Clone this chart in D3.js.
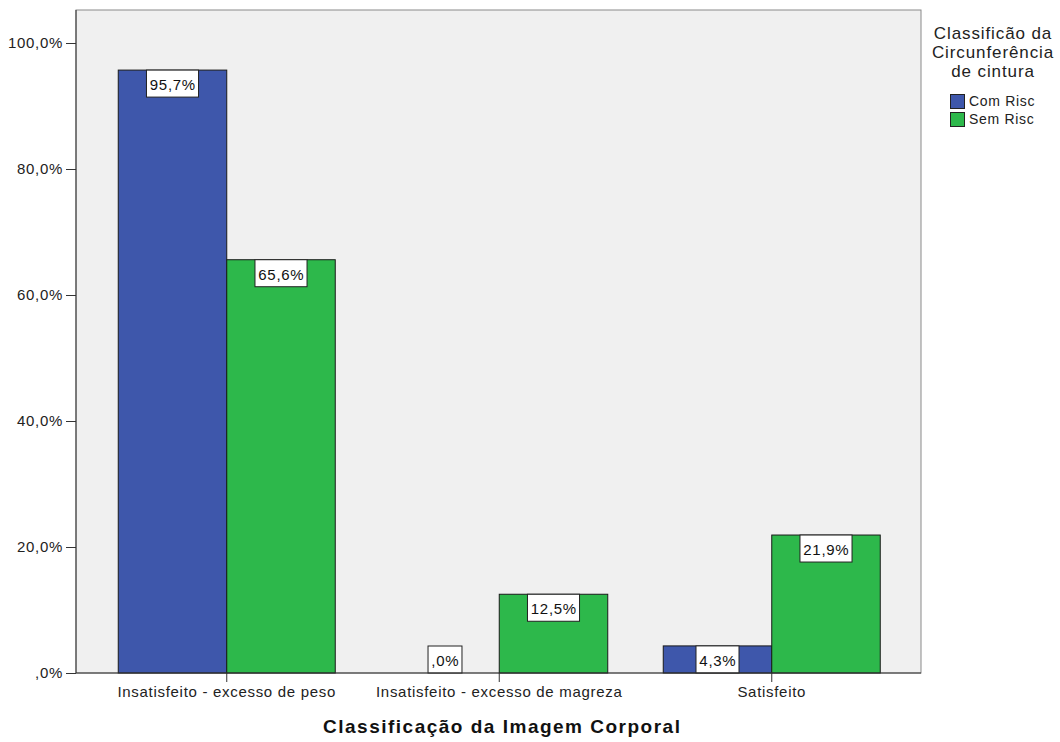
<!DOCTYPE html>
<html lang="pt">
<head>
    <meta charset="UTF-8">
    <title>Classificação da Imagem Corporal</title>
    <script src="https://cdn.jsdelivr.net/npm/d3@7"></script>
    <style>
        body {
            margin: 0;
            padding: 0;
            background: #fff;
            font-family: "Liberation Sans", Arial, sans-serif;
        }
        svg text {
            font-family: "Liberation Sans", Arial, sans-serif;
        }
    </style>
</head>
<body>
    <svg id="chart" width="1060" height="742"></svg>
    <script>
        // Data
        const categories = ['Insatisfeito - excesso de peso', 'Insatisfeito - excesso de magreza', 'Satisfeito'];
        const series = ['Com Risc', 'Sem Risc'];
        const comRisc = [95.7, 0.0, 4.3];
        const semRisc = [65.6, 12.5, 21.9];
        const yTicks = [0, 20, 40, 60, 80, 100];
        const colors = ['#3e57ab', '#2db84b'];

        const svg = d3.select('#chart');
        const plot = { left: 76, top: 10, right: 921, bottom: 673 };

        // percent formatting like SPSS: ",0%" / "95,7%"
        const fmt = v => {
            const s = v.toFixed(1).replace('.', ',');
            return (s.startsWith('0,') ? s.slice(1) : s) + '%';
        };

        const x = d3.scaleBand().domain(categories).range([90.5, 908]).padding(0);
        const groupW = 217;
        const xSub = d3.scaleBand().domain(series).range([0, groupW]);
        const y = d3.scaleLinear().domain([0, 100]).range([plot.bottom, 43]);

        // plot background
        svg.append('rect')
            .attr('x', plot.left).attr('y', plot.top)
            .attr('width', plot.right - plot.left)
            .attr('height', plot.bottom - plot.top)
            .attr('fill', '#f0f0f0')
            .attr('stroke', '#8a8a8a');

        const rows = categories.map((c, i) => ({ cat: c, values: [comRisc[i], semRisc[i]] }));

        const groups = svg.selectAll('g.grp')
            .data(rows)
            .enter()
            .append('g')
            .attr('class', 'grp')
            .attr('transform', d => `translate(${x(d.cat) + x.bandwidth() / 2 - groupW / 2},0)`);

        groups.selectAll('rect')
            .data(d => d.values.map((v, j) => ({ s: series[j], v, j })))
            .enter()
            .append('rect')
            .attr('x', d => xSub(d.s))
            .attr('width', xSub.bandwidth())
            .attr('y', d => y(d.v))
            .attr('height', d => y(0) - y(d.v))
            .attr('fill', d => colors[d.j])
            .attr('stroke', d => d.v > 0 ? '#1a1a1a' : 'none')
            .attr('stroke-width', 1);

        // value labels in white boxes
        const boxH = 27;
        groups.each(function (d) {
            const g = d3.select(this);
            d.values.forEach((v, j) => {
                const cx = xSub(series[j]) + xSub.bandwidth() / 2;
                const top = Math.min(y(v), y(0) - boxH);
                const t = g.append('text')
                    .attr('x', cx + 0.35)
                    .attr('y', top + 20)
                    .attr('text-anchor', 'middle')
                    .attr('font-size', 15)
                    .attr('letter-spacing', 0.7)
                    .attr('fill', '#111')
                    .text(fmt(v));
                const w = t.node().getComputedTextLength() + 6;
                g.insert('rect', 'text')
                    .attr('x', cx - w / 2)
                    .attr('y', top)
                    .attr('width', w)
                    .attr('height', boxH)
                    .attr('fill', '#fff')
                    .attr('stroke', '#222');
            });
        });

        // y axis
        const yAxis = svg.append('g')
            .attr('transform', `translate(${plot.left},0)`)
            .call(d3.axisLeft(y).tickValues(yTicks).tickSize(10).tickPadding(3).tickFormat(fmt));
        yAxis.select('.domain').attr('stroke', '#333').attr('d', `M0,${plot.top}V${plot.bottom}`);
        yAxis.selectAll('.tick line').attr('stroke', '#333');
        yAxis.selectAll('.tick text').attr('font-size', 15).attr('fill', '#222')
            .attr('letter-spacing', 0.7)
            .attr('font-family', '"Liberation Sans", Arial, sans-serif');

        // x axis
        const xAxis = svg.append('g')
            .attr('transform', `translate(0,${plot.bottom})`)
            .call(d3.axisBottom(x).tickSize(9).tickPadding(4));
        xAxis.select('.domain').attr('stroke', '#333').attr('d', `M${plot.left},0H${plot.right}`);
        xAxis.selectAll('.tick line').attr('stroke', '#333');
        xAxis.selectAll('.tick text').attr('font-size', 15).attr('fill', '#222')
            .attr('letter-spacing', 0.7)
            .attr('font-family', '"Liberation Sans", Arial, sans-serif');

        // x axis title
        svg.append('text')
            .attr('x', x(categories[1]) + x.bandwidth() / 2 + 3)
            .attr('y', 733)
            .attr('text-anchor', 'middle')
            .attr('font-size', 19)
            .attr('font-weight', 'bold')
            .attr('letter-spacing', 1.5)
            .attr('fill', '#111')
            .text('Classificação da Imagem Corporal');

        // legend
        const legend = svg.append('g');
        ['Classificão da', 'Circunferência', 'de cintura'].forEach((line, i) => {
            legend.append('text')
                .attr('x', 993)
                .attr('y', 39 + i * 19)
                .attr('text-anchor', 'middle')
                .attr('font-size', 17)
                .attr('letter-spacing', 0.9)
                .attr('fill', '#222')
                .text(line);
        });
        series.forEach((s, i) => {
            legend.append('rect')
                .attr('x', 950.5).attr('y', 94.5 + i * 18)
                .attr('width', 14).attr('height', 14)
                .attr('fill', colors[i])
                .attr('stroke', '#222');
            legend.append('text')
                .attr('x', 969)
                .attr('y', 106 + i * 18)
                .attr('font-size', 14)
                .attr('letter-spacing', 0.7)
                .attr('fill', '#222')
                .text(s);
        });
    </script>
</body>
</html>
